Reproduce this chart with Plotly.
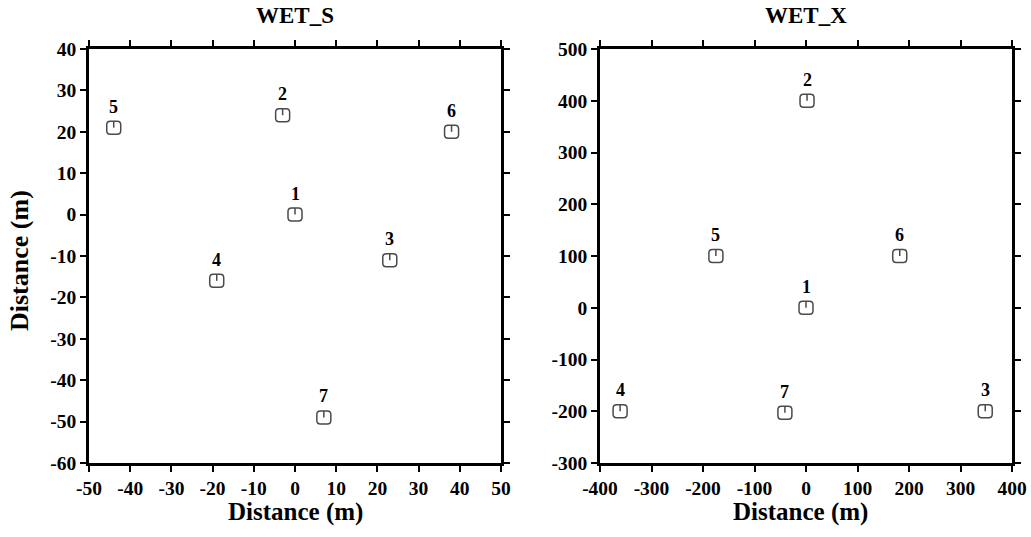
import plotly.graph_objects as go

# ---- data ----
s_ids = ["1", "2", "3", "4", "5", "6", "7"]
s_x = [0, -3, 23, -19, -44, 38, 7]
s_y = [0, 24, -11, -16, 21, 20, -49]

x_ids = ["1", "2", "3", "4", "5", "6", "7"]
x_x = [0, 2, 348, -361, -175, 182, -41]
x_y = [0, 400, -200, -200, 100, 100, -203]

s_xticks = [-50, -40, -30, -20, -10, 0, 10, 20, 30, 40, 50]
s_yticks = [-60, -50, -40, -30, -20, -10, 0, 10, 20, 30, 40]
x_xticks = [-400, -300, -200, -100, 0, 100, 200, 300, 400]
x_yticks = [-300, -200, -100, 0, 100, 200, 300, 400, 500]

titles = ["WET_S", "WET_X"]
axis_title = "Distance (m)"

FONT = "Liberation Serif"
W, H = 1031, 537

def px(p):
    return p / W

def py(p):
    return 1 - p / H

fig = go.Figure()

def add_panel(xs, ys, ids, xa, ya):
    fig.add_trace(go.Scatter(x=xs, y=ys, mode="markers", xaxis=xa, yaxis=ya,
                             marker=dict(size=1, color="rgba(0,0,0,0)"),
                             showlegend=False, hoverinfo="skip"))
    xr = "x" if xa == "x" else "x2"
    yr = "y" if ya == "y" else "y2"
    for xv, yv, t in zip(xs, ys, ids):
        r = 3.5; hw = 7; hh = 6.5
        path = (f"M {-hw+r},{-hh} L {hw-r},{-hh} Q {hw},{-hh} {hw},{-hh+r} L {hw},{hh-r} Q {hw},{hh} {hw-r},{hh} "
                f"L {-hw+r},{hh} Q {-hw},{hh} {-hw},{hh-r} L {-hw},{-hh+r} Q {-hw},{-hh} {-hw+r},{-hh} Z")
        fig.add_shape(type="path", path=path, xref=xr, yref=yr,
                      xsizemode="pixel", ysizemode="pixel", xanchor=xv, yanchor=yv,
                      line=dict(color="#4a4a4a", width=1.5))
        fig.add_shape(type="line", xref=xr, yref=yr, xsizemode="pixel", ysizemode="pixel",
                      xanchor=xv, yanchor=yv, x0=0, x1=0, y0=0, y1=hh,
                      line=dict(color="#4a4a4a", width=1.5))
        fig.add_annotation(x=xv, y=yv, xref=xr, yref=yr, text=f"<b>{t}</b>", showarrow=False,
                           xanchor="center", yanchor="middle",
                           yshift=21, font=dict(family=FONT, size=18, color="black"))

add_panel(s_x, s_y, s_ids, "x", "y")
add_panel(x_x, x_y, x_ids, "x2", "y2")

ax_common = dict(showline=True, linecolor="black", linewidth=2.5, mirror="ticks",
                 ticks="outside", ticklen=6, tickwidth=2, tickcolor="black",
                 showgrid=False, zeroline=False, automargin=False,
                 tickfont=dict(family=FONT, size=19.5, color="black"))

def tk(vals):
    return dict(tickmode="array", tickvals=vals, ticktext=[f"<b>{v}</b>" for v in vals])

ydom = [py(463), py(49)]
fig.update_layout(
    width=W, height=H, margin=dict(l=0, r=0, t=0, b=0, autoexpand=False),
    plot_bgcolor="white", paper_bgcolor="white",
    xaxis=dict(domain=[px(89), px(501)], range=[-50, 50], anchor="y", **tk(s_xticks), **ax_common),
    yaxis=dict(domain=ydom, range=[-60, 40], anchor="x", **tk(s_yticks), **ax_common),
    xaxis2=dict(domain=[px(600), px(1012)], range=[-400, 400], anchor="y2", **tk(x_xticks), **ax_common),
    yaxis2=dict(domain=ydom, range=[-300, 500], anchor="x2", **tk(x_yticks), **ax_common),
)

def paper_text(x, y, text, font, angle=0):
    fig.add_annotation(x=px(x), y=py(y), xref="paper", yref="paper", showarrow=False,
                       xanchor="center", yanchor="middle", text=f"<b>{text}</b>",
                       font=font, textangle=angle)

ann_font = dict(family=FONT, size=23, color="black")
title_font = dict(family=FONT, size=25, color="black")
paper_text(295, 15, titles[0], ann_font)
paper_text(806, 15, titles[1], ann_font)
paper_text(295, 512, axis_title, title_font)
paper_text(800, 512, axis_title, title_font)
paper_text(19, 261, axis_title, dict(family=FONT, size=26, color="black"), -90)

fig.write_html("out.html", config={"displayModeBar": False},
               post_script="document.body.style.margin='0';document.body.style.overflow='hidden';")
